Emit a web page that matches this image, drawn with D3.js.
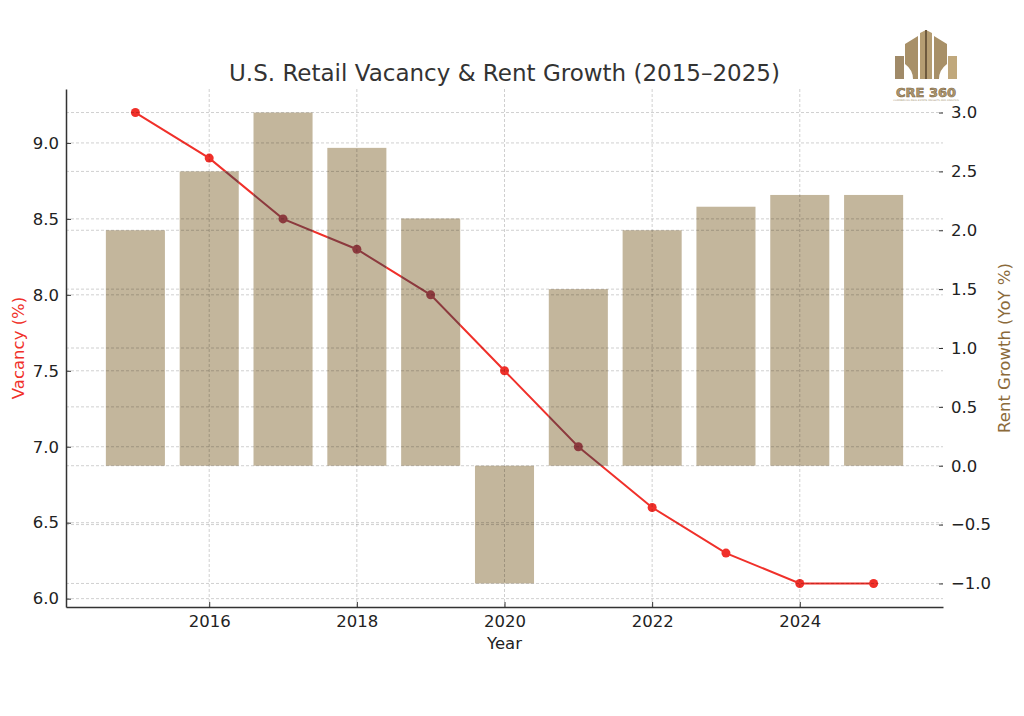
<!DOCTYPE html>
<html>
<head>
<meta charset="utf-8">
<script src="https://cdn.jsdelivr.net/npm/d3@7"></script>
<style>
  body { margin: 0; background: #fff; }
  svg { display: block; font-family: "DejaVu Sans", sans-serif; }
  svg text { font-family: "DejaVu Sans", sans-serif; }
</style>
</head>
<body>
<script>
// data
var years = [2015, 2016, 2017, 2018, 2019, 2020, 2021, 2022, 2023, 2024, 2025]
var vacancy = [9.2, 8.9, 8.5, 8.3, 8.0, 7.5, 7.0, 6.6, 6.3, 6.1, 6.1]
var rentGrowth = [2.0, 2.5, 3.0, 2.7, 2.1, -1.0, 1.5, 2.0, 2.2, 2.3, 2.3]
var xTicks = [2016, 2018, 2020, 2022, 2024]
var leftTicks = [6.0, 6.5, 7.0, 7.5, 8.0, 8.5, 9.0]
var rightTicks = [-1.0, -0.5, 0.0, 0.5, 1.0, 1.5, 2.0, 2.5, 3.0]

var W = 1024, H = 716
var plotL = 66, plotR = 943, plotT = 89, plotB = 607

var svg = d3.select("body").append("svg")
  .attr("width", W)
  .attr("height", H)

var x = d3.scaleLinear().domain([2014.06, 2025.94]).range([plotL, plotR])
var yL = d3.scaleLinear().domain([5.945, 9.355]).range([plotB, plotT])
var yR = d3.scaleLinear().domain([-1.2, 3.2]).range([plotB, plotT])
var barW = x(2015.4) - x(2014.6)

var rows = years.map(function(d, i) { return {year: d, vac: vacancy[i], rent: rentGrowth[i]} })

var line = d3.line()
  .x(function(d) { return x(d.year) })
  .y(function(d) { return yL(d.vac) })

// vacancy line (under the bars)
function drawLine(g, color) {
  g.append("path")
    .datum(rows)
    .attr("d", line)
    .attr("fill", "none")
    .attr("stroke", color)
    .attr("stroke-width", 2)
  g.selectAll("circle")
    .data(rows).enter()
    .append("circle")
    .attr("cx", function(d) { return x(d.year) })
    .attr("cy", function(d) { return yL(d.vac) })
    .attr("r", 4.5)
    .attr("fill", color)
}
drawLine(svg.append("g"), "#f0302a")

// rent growth bars
function barY(d) { return yR(Math.max(0, d.rent)) }
function barH(d) { return Math.abs(yR(d.rent) - yR(0)) }

svg.append("g").selectAll("rect")
  .data(rows).enter()
  .append("rect")
  .attr("x", function(d) { return x(d.year) - barW / 2 })
  .attr("y", barY)
  .attr("width", barW)
  .attr("height", barH)
  .attr("fill", "#c3b69c")

// line seen through the bars looks darker
svg.append("clipPath").attr("id", "barclip")
  .selectAll("rect")
  .data(rows).enter()
  .append("rect")
  .attr("x", function(d) { return x(d.year) - barW / 2 })
  .attr("y", barY)
  .attr("width", barW)
  .attr("height", barH)
drawLine(svg.append("g").attr("clip-path", "url(#barclip)"), "#8c3a3e")

// grids on top
var grid = svg.append("g")
  .attr("stroke", "#000")
  .attr("stroke-opacity", 0.24)
  .attr("stroke-width", 0.8)
  .attr("stroke-dasharray", "3,2")
grid.selectAll(".gx").data(xTicks).enter().append("line")
  .attr("x1", function(d) { return x(d) }).attr("x2", function(d) { return x(d) })
  .attr("y1", plotT).attr("y2", plotB)
grid.selectAll(".gl").data(leftTicks).enter().append("line")
  .attr("x1", plotL).attr("x2", plotR)
  .attr("y1", function(d) { return yL(d) }).attr("y2", function(d) { return yL(d) })
grid.selectAll(".gr").data(rightTicks).enter().append("line")
  .attr("x1", plotL).attr("x2", plotR)
  .attr("y1", function(d) { return yR(d) }).attr("y2", function(d) { return yR(d) })

// axes
function styleAxis(g) {
  g.attr("font-family", "DejaVu Sans")
  g.selectAll("text").attr("font-size", "16.5px").attr("fill", "#222")
  g.selectAll(".tick line").attr("stroke", "#333")
}

var xAxis = svg.append("g")
  .attr("transform", "translate(0," + plotB + ")")
  .call(d3.axisBottom(x).tickValues(xTicks).tickFormat(d3.format("d")).tickSizeInner(-5).tickSizeOuter(0).tickPadding(8))
xAxis.call(styleAxis)
xAxis.select(".domain").attr("stroke", "#333").attr("stroke-width", 1.5)

var lAxis = svg.append("g")
  .attr("transform", "translate(" + plotL + ",0)")
  .call(d3.axisLeft(yL).tickValues(leftTicks).tickFormat(d3.format(".1f")).tickSizeInner(-5).tickSizeOuter(0).tickPadding(7))
lAxis.call(styleAxis)
lAxis.select(".domain").attr("stroke", "#333").attr("stroke-width", 1.5)

var rAxis = svg.append("g")
  .attr("transform", "translate(" + plotR + ",0)")
  .call(d3.axisRight(yR).tickValues(rightTicks).tickFormat(function(d) { return d3.format(".1f")(d).replace("-", "\u2212") }).tickSizeInner(-4).tickSizeOuter(0).tickPadding(8))
rAxis.call(styleAxis)
rAxis.select(".domain").remove()

// labels
svg.append("text")
  .attr("x", (plotL + plotR) / 2).attr("y", 81)
  .attr("text-anchor", "middle")
  .attr("font-size", "23px")
  .attr("fill", "#333")
  .text("U.S. Retail Vacancy & Rent Growth (2015\u20132025)")

svg.append("text")
  .attr("x", (plotL + plotR) / 2).attr("y", 649)
  .attr("text-anchor", "middle")
  .attr("font-size", "16.5px")
  .attr("fill", "#222")
  .text("Year")

svg.append("text")
  .attr("transform", "translate(24," + (plotT + plotB) / 2 + ") rotate(-90)")
  .attr("text-anchor", "middle")
  .attr("font-size", "16.5px")
  .attr("fill", "#f0302a")
  .text("Vacancy (%)")

svg.append("text")
  .attr("transform", "translate(1010," + (plotT + plotB) / 2 + ") rotate(-90)")
  .attr("text-anchor", "middle")
  .attr("font-size", "16.5px")
  .attr("fill", "#8b6a3a")
  .text("Rent Growth (YoY %)")

// logo
var logo = svg.append("g").attr("transform", "translate(926,30)")
logo.append("path").attr("d", "M-31,26 L-22,26 L-22,49 L-31,49 Z").attr("fill", "#a08a68")
logo.append("path").attr("d", "M-21,14 L-8,6 L-8,49 L-13,49 Q-13,40 -21,34 Z").attr("fill", "#a89068")
logo.append("path").attr("d", "M-6,3 L0,0 L6,3 L6,49 L-6,49 Z").attr("fill", "#b59d72")
logo.append("path").attr("d", "M-1,0 L1,0 L1,49 L-1,49 Z").attr("fill", "#6e5a3e")
logo.append("path").attr("d", "M8,6 L21,14 L21,34 Q13,40 13,49 L8,49 Z").attr("fill", "#a89068")
logo.append("path").attr("d", "M22,26 L31,26 L31,49 L22,49 Z").attr("fill", "#c0a87c")
logo.append("text")
  .attr("x", 0).attr("y", 67)
  .attr("text-anchor", "middle")
  .attr("font-size", "13px")
  .attr("font-weight", "bold")
  .attr("fill", "#b09a70")
  .attr("stroke", "#7a6444")
  .attr("stroke-width", 0.6)
  .text("CRE 360")
logo.append("text")
  .attr("x", 0).attr("y", 71)
  .attr("text-anchor", "middle")
  .attr("font-size", "2.5px")
  .attr("fill", "#a89878")
  .text("COMMERCIAL REAL ESTATE INSIGHTS AND ANALYSIS")
</script>
</body>
</html>
